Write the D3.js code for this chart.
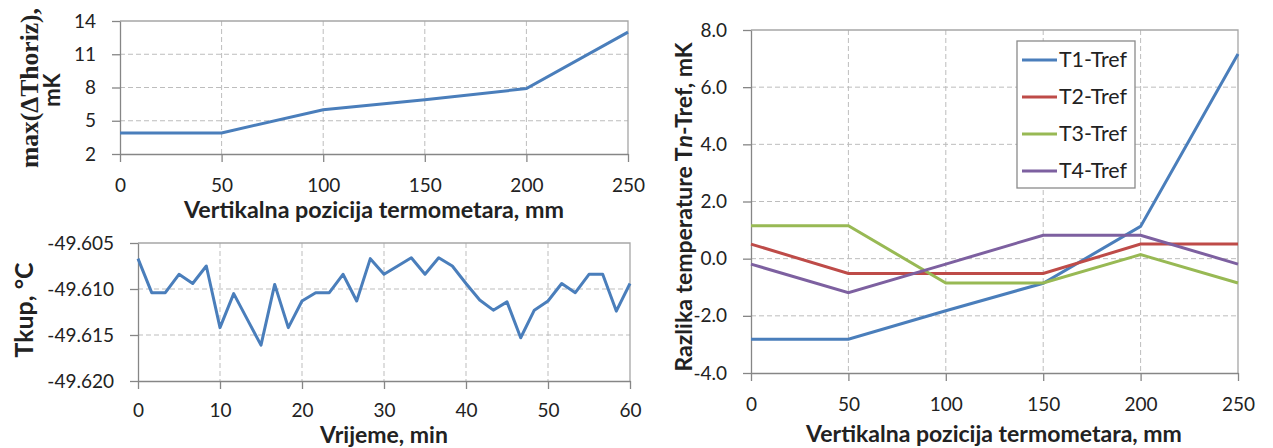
<!DOCTYPE html>
<html><head><meta charset="utf-8">
<script src="https://cdn.jsdelivr.net/npm/d3@7"></script>
<style>
body{margin:0;background:#fff}
text{font-family:Lato,"Open Sans",sans-serif;fill:#222}
</style>
</head><body>
<svg id="c" width="1273" height="448"></svg>
<script>
// ---------- data ----------
const posMm = [0, 50, 100, 150, 200, 250];
const maxDeltaHoriz = [3.9, 3.9, 6.0, 6.9, 7.9, 13.0];

const timeMin = [0, 1.67, 3.33, 5, 6.67, 8.33, 10, 11.67, 13.33, 15, 16.67, 18.33,
  20, 21.67, 23.33, 25, 26.67, 28.33, 30, 31.67, 33.33, 35, 36.67, 38.33,
  40, 41.67, 43.33, 45, 46.67, 48.33, 50, 51.67, 53.33, 55, 56.67, 58.33, 60];
const tkup = [-49.6067, -49.6104, -49.6104, -49.6084, -49.6094, -49.6075, -49.6142, -49.6105,
  -49.6133, -49.6161, -49.6095, -49.6142, -49.6113, -49.6104, -49.6104, -49.6084,
  -49.6113, -49.6067, -49.6084, -49.6075, -49.6066, -49.6084, -49.6066, -49.6075,
  -49.6094, -49.6112, -49.6123, -49.6114, -49.6153, -49.6123, -49.6113, -49.6094,
  -49.6104, -49.6084, -49.6084, -49.6124, -49.6094];

const seriesNames = ["T1-Tref", "T2-Tref", "T3-Tref", "T4-Tref"];
const t1Tref = [-2.82, -2.82, -1.82, -0.86, 1.13, 7.16];
const t2Tref = [0.51, -0.52, -0.52, -0.52, 0.51, 0.51];
const t3Tref = [1.15, 1.15, -0.85, -0.85, 0.14, -0.85];
const t4Tref = [-0.19, -1.19, -0.19, 0.82, 0.82, -0.19];

const posTicks = [0, 50, 100, 150, 200, 250];
const maxTicks = [2, 5, 8, 11, 14];
const timeTicks = [0, 10, 20, 30, 40, 50, 60];
const tkupTicks = [-49.620, -49.615, -49.610, -49.605];
const diffTicks = [-4, -2, 0, 2, 4, 6, 8];

const xTitle = "Vertikalna pozicija termometara, mm";
// ---------- styles ----------
const colors = ["#4a7ebb", "#be4b48", "#98b954", "#7d60a0"];
const axisColor = "#868686", frameColor = "#a6a6a6", gridColor = "#bdbdbd";

const svg = d3.select("#c");
const hyph = f => d => f(d).replace("\u2212", "-");

function fit(sel, target) {
  const n = sel.node();
  const fs = parseFloat(sel.attr("font-size"));
  const w = n.getComputedTextLength();
  sel.attr("font-size", (fs * target / w).toFixed(2));
}

function panel(o) {
  const x = d3.scaleLinear().domain(o.xDomain).range([o.L, o.R]);
  const y = d3.scaleLinear().domain(o.yDomain).range([o.B, o.T]);
  const g = svg.append("g");
  g.selectAll(".gx").data(o.xTicks.slice(1, -1)).join("line")
    .attr("x1", d => x(d)).attr("x2", d => x(d)).attr("y1", o.T).attr("y2", o.B)
    .attr("stroke", gridColor).attr("stroke-dasharray", "5,3").attr("stroke-width", 1);
  g.selectAll(".gy").data(o.yTicks.slice(1, -1)).join("line")
    .attr("x1", o.L).attr("x2", o.R).attr("y1", d => y(d)).attr("y2", d => y(d))
    .attr("stroke", gridColor).attr("stroke-dasharray", "5,3").attr("stroke-width", 1);
  g.append("path").attr("d", `M${o.L},${o.T}H${o.R}V${o.B}`)
    .attr("fill", "none").attr("stroke", frameColor).attr("stroke-width", 1.3);
  const ax = g.append("g").attr("transform", `translate(0,${o.B})`)
    .call(d3.axisBottom(x).tickValues(o.xTicks).tickSize(8).tickSizeOuter(0).tickPadding(o.xPad || 17).tickFormat(d3.format("d")));
  const ay = g.append("g").attr("transform", `translate(${o.L},0)`)
    .call(d3.axisLeft(y).tickValues(o.yTicks).tickSize(8).tickSizeOuter(0).tickPadding(16).tickFormat(hyph(o.yFmt)));
  [ax, ay].forEach(a => {
    a.selectAll("path,line").attr("stroke", axisColor).attr("stroke-width", 1.3);
    a.selectAll("text").attr("font-size", 19).attr("font-family", "Lato").attr("fill", "#222");
  });
  return {x, y, g};
}

const lineGen = (x, y) => d3.line().x(d => x(d[0])).y(d => y(d[1]));

// ---------- top-left ----------
const p1 = panel({L: 120, R: 628, T: 21, B: 154, xDomain: [0, 250], yDomain: [2, 14],
  xTicks: posTicks, yTicks: maxTicks, yFmt: d3.format("d")});
p1.g.append("path").datum(posMm.map((d, i) => [d, maxDeltaHoriz[i]]))
  .attr("d", lineGen(p1.x, p1.y)).attr("fill", "none").attr("stroke", colors[0]).attr("stroke-width", 3);
fit(svg.append("text").attr("x", 374).attr("y", 218).attr("text-anchor", "middle")
  .attr("font-size", 20).attr("font-weight", "bold").text(xTitle), 380);
fit(svg.append("text").attr("transform", "translate(38,88) rotate(-90)").attr("text-anchor", "middle")
  .attr("font-size", 20).attr("font-weight", "bold")
  .style("font-family", "'Liberation Serif',serif").text("max(\u0394Thoriz),"), 160);
svg.append("text").attr("transform", "translate(60,90) rotate(-90)").attr("text-anchor", "middle")
  .attr("font-size", 22).attr("font-weight", "bold").text("mK");

// ---------- bottom-left ----------
const p2 = panel({L: 138, R: 630, T: 243, B: 381, xDomain: [0, 60], yDomain: [-49.620, -49.605],
  xTicks: timeTicks, yTicks: tkupTicks, yFmt: d3.format(".3f"), xPad: 15});
p2.g.append("path").datum(timeMin.map((d, i) => [d, tkup[i]]))
  .attr("d", lineGen(p2.x, p2.y)).attr("fill", "none").attr("stroke", colors[0]).attr("stroke-width", 3)
  .attr("stroke-linejoin", "round");
fit(svg.append("text").attr("x", 384).attr("y", 443).attr("text-anchor", "middle")
  .attr("font-size", 20).attr("font-weight", "bold").text("Vrijeme, min"), 128);
fit(svg.append("text").attr("transform", "translate(33,310) rotate(-90)").attr("text-anchor", "middle")
  .attr("font-size", 20).attr("font-weight", "bold").text("Tkup, \u00B0C"), 95);

// ---------- right ----------
const p3 = panel({L: 751, R: 1238, T: 30, B: 373, xDomain: [0, 250], yDomain: [-4, 8],
  xTicks: posTicks, yTicks: diffTicks, yFmt: d3.format(".1f")});
const allSeries = [t1Tref, t2Tref, t3Tref, t4Tref];
allSeries.forEach((s, k) => {
  p3.g.append("path").datum(posMm.map((d, i) => [d, s[i]]))
    .attr("d", lineGen(p3.x, p3.y)).attr("fill", "none").attr("stroke", colors[k]).attr("stroke-width", 3);
});
fit(svg.append("text").attr("x", 994).attr("y", 442).attr("text-anchor", "middle")
  .attr("font-size", 20).attr("font-weight", "bold").text(xTitle), 376);
const yt = svg.append("text").attr("transform", "translate(692,207) rotate(-90)").attr("text-anchor", "middle")
  .attr("font-size", 20).attr("font-weight", "bold");
yt.append("tspan").text("Razlika temperature T");
yt.append("tspan").attr("font-style", "italic").text("n");
yt.append("tspan").text("-Tref, mK");
fit(yt, 329);

// legend
const lg = svg.append("g");
lg.append("rect").attr("x", 1017).attr("y", 41).attr("width", 118).attr("height", 147)
  .attr("fill", "#fff").attr("stroke", "#8a8a8a").attr("stroke-width", 1.3);
seriesNames.forEach((n, k) => {
  const yy = 60 + k * 37;
  lg.append("line").attr("x1", 1022).attr("x2", 1057).attr("y1", yy).attr("y2", yy)
    .attr("stroke", colors[k]).attr("stroke-width", 3);
  fit(lg.append("text").attr("x", 1059).attr("y", yy).attr("dy", "0.35em")
    .attr("font-size", 20).text(n), 68);
});
</script>
</body></html>
